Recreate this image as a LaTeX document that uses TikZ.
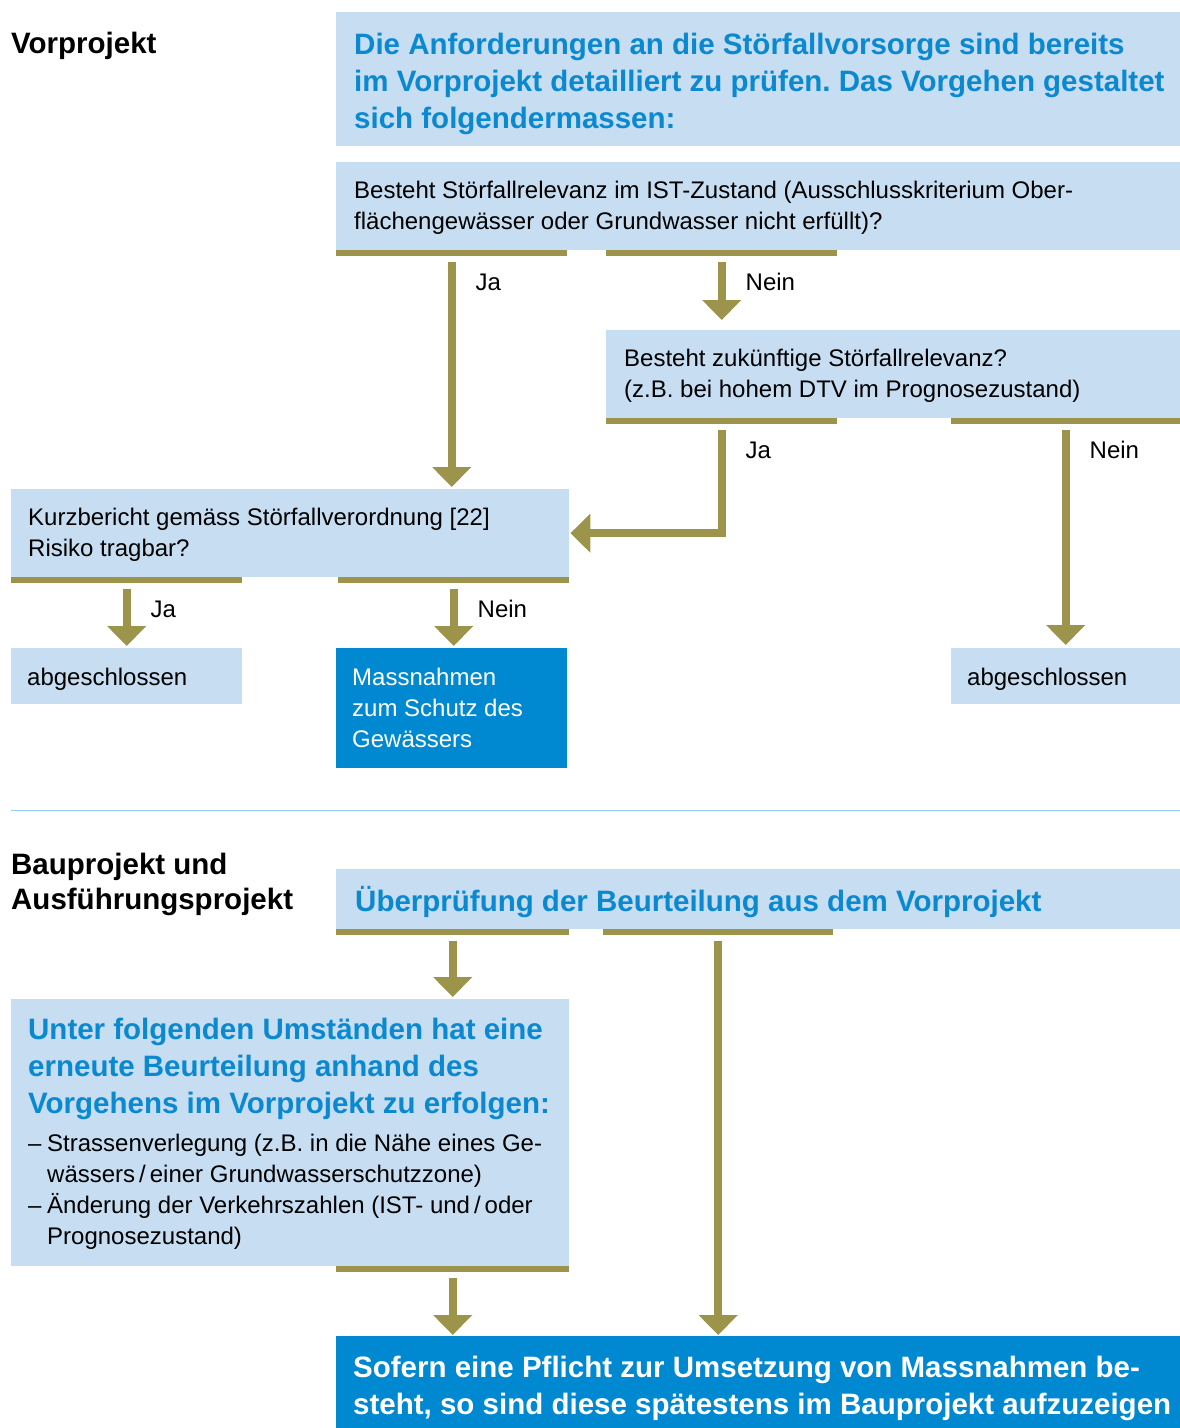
\documentclass[tikz,border=0pt]{standalone}
\usepackage{fontspec}
\setmainfont{Liberation Sans}
\usetikzlibrary{arrows.meta,calc}
\definecolor{lb}{HTML}{C6DDF2}
\definecolor{db}{HTML}{0088D0}
\definecolor{tb}{HTML}{0A88D0}
\definecolor{ol}{HTML}{9D944C}
\definecolor{sepc}{HTML}{8ECFEE}
\newcommand\bodyf{\fontsize{24}{31}\selectfont}
\newcommand\ttlf{\fontsize{29.5}{37}\selectfont\bfseries}
\frenchspacing
\begin{document}
\begin{tikzpicture}[x=1pt,y=1pt,
  lbox/.style={fill=lb, anchor=north west, inner sep=0pt, draw=none},
  dbox/.style={fill=db, anchor=north west, inner sep=0pt, draw=none},
  txt/.style={anchor=west, inner sep=0pt, align=left, font=\bodyf, text=black, yshift=-2pt},
  wtxt/.style={anchor=west, inner sep=0pt, align=left, font=\bodyf, text=white},
  ttl/.style={anchor=west, inner sep=0pt, align=left, font=\ttlf, text=tb, yshift=-3pt},
  bar/.style={fill=ol, anchor=north west, inner sep=0pt, minimum height=6pt},
  arr/.style={draw=ol, line width=8pt, line join=miter, -{Triangle[width=38pt,length=20pt]}, shorten >=2pt},
  lbl/.style={at start, anchor=west, xshift=20pt, yshift=-20pt, inner sep=0pt, font=\bodyf, text=black}
]
\useasboundingbox (0,0) rectangle (1180,-1428);
\fill[white] (0,0) rectangle (1180,-1428);

% ---------- Vorprojekt ----------
\node[anchor=west, inner sep=0pt, font=\ttlf] (vp) at (11,-46) {Vorprojekt};

\node[lbox, minimum width=844pt, minimum height=134pt] (intro) at (336,-12) {};
\node[ttl, yshift=-2pt] (introT) at ([xshift=18pt]intro.west) {Die Anforderungen an die Störfallvorsorge sind bereits\\im Vorprojekt detailliert zu prüfen. Das Vorgehen gestaltet\\sich folgendermassen:};

\node[lbox, minimum width=844pt, minimum height=88pt] (q1) at (336,-162) {};
\node[txt] (q1T) at ([xshift=18pt]q1.west) {Besteht Störfallrelevanz im IST-Zustand (Ausschlusskriterium Ober-\\flächengewässer oder Grundwasser nicht erfüllt)?};
\node[bar, minimum width=231pt] (b1a) at (336,-250) {};
\node[bar, minimum width=231pt] (b1b) at (606,-250) {};

\node[lbox, minimum width=574pt, minimum height=88pt] (q2) at (606,-330) {};
\node[txt] (q2T) at ([xshift=18pt]q2.west) {Besteht zukünftige Störfallrelevanz?\\(z.B. bei hohem DTV im Prognosezustand)};
\node[bar, minimum width=231pt] (b2a) at (606,-418) {};
\node[bar, minimum width=229pt] (b2b) at (951,-418) {};

\node[lbox, minimum width=558pt, minimum height=88pt] (q3) at (11,-489) {};
\node[txt] (q3T) at ([xshift=17pt]q3.west) {Kurzbericht gemäss Störfallverordnung [22]\\Risiko tragbar?};
\node[bar, minimum width=231pt] (b3a) at (11,-577) {};
\node[bar, minimum width=231pt] (b3b) at (338,-577) {};

\node[lbox, minimum width=231pt, minimum height=56pt] (abg1) at (11,-648) {};
\node[txt, yshift=-1pt] (abg1T) at ([xshift=16pt]abg1.west) {abgeschlossen};
\node[dbox, minimum width=231pt, minimum height=120pt] (mass) at (336,-648) {};
\node[wtxt] (massT) at ([xshift=16pt]mass.west) {Massnahmen\\zum Schutz des\\Gewässers};
\node[lbox, minimum width=229pt, minimum height=56pt] (abg2) at (951,-648) {};
\node[txt, yshift=-1pt] (abg2T) at ([xshift=16pt]abg2.west) {abgeschlossen};

\draw[arr] ([yshift=-6pt]b1a.south) -- node[lbl]{Ja} (b1a.south |- q3.north);
\draw[arr, shorten >=10pt] ([yshift=-6pt]b1b.south) -- node[lbl]{Nein} (b1b.south |- q2.north);
\draw[arr, shorten >=1pt] ([yshift=-6pt]b2a.south) |- node[lbl]{Ja} (q3.east);
\draw[arr, shorten >=3pt] ([yshift=-6pt]b2b.south) -- node[lbl]{Nein} (b2b.south |- abg2.north);
\draw[arr] ([yshift=-6pt]b3a.south) -- node[lbl]{Ja} (b3a.south |- abg1.north);
\draw[arr] ([yshift=-6pt]b3b.south) -- node[lbl]{Nein} (b3b.south |- mass.north);

% ---------- separator ----------
\draw[sepc, line width=1pt] (11,-810) -- (1180,-810);

% ---------- Bauprojekt ----------
\node[anchor=west, inner sep=0pt, align=left, font=\fontsize{29.5}{35}\selectfont\bfseries] (bp) at (11,-884.5) {Bauprojekt und\\Ausführungsprojekt};

\node[lbox, minimum width=844pt, minimum height=60pt] (ueb) at (336,-869) {};
\node[ttl] (uebT) at ([xshift=19pt]ueb.west) {Überprüfung der Beurteilung aus dem Vorprojekt};
\node[bar, minimum width=233pt] (bu1) at (336,-929) {};
\node[bar, minimum width=230pt] (bu2) at (603,-929) {};

\node[lbox, minimum width=558pt, minimum height=267pt] (unter) at (11,-999) {};
\node[ttl] (unterT) at (28,-1066) {Unter folgenden Umständen hat eine\\erneute Beurteilung anhand des\\Vorgehens im Vorprojekt zu erfolgen:};
\node[txt] (unterL) at (28,-1189.5) {\makebox[19pt][l]{–}Strassenverlegung (z.B. in die Nähe eines Ge-\\\hspace*{19pt}wässers\,/\,einer Grundwasserschutzzone)\\\makebox[19pt][l]{–}Änderung der Verkehrszahlen (IST- und\,/\,oder\\\hspace*{19pt}Prognosezustand)};
\node[bar, minimum width=233pt] (bu3) at (336,-1266) {};

\node[dbox, minimum width=844pt, minimum height=92pt] (sof) at (336,-1336) {};
\node[ttl, text=white, yshift=-3pt] (sofT) at ([xshift=17pt]sof.west) {Sofern eine Pflicht zur Umsetzung von Massnahmen be-\\steht, so sind diese spätestens im Bauprojekt aufzuzeigen};

\draw[arr] ([yshift=-6pt]bu1.south) -- (bu1.south |- unter.north);
\draw[arr, shorten >=1pt] ([yshift=-6pt]bu2.south) -- (bu2.south |- sof.north);
\draw[arr, shorten >=1pt] ([yshift=-6pt]bu3.south) -- (bu3.south |- sof.north);
\end{tikzpicture}
\end{document}
